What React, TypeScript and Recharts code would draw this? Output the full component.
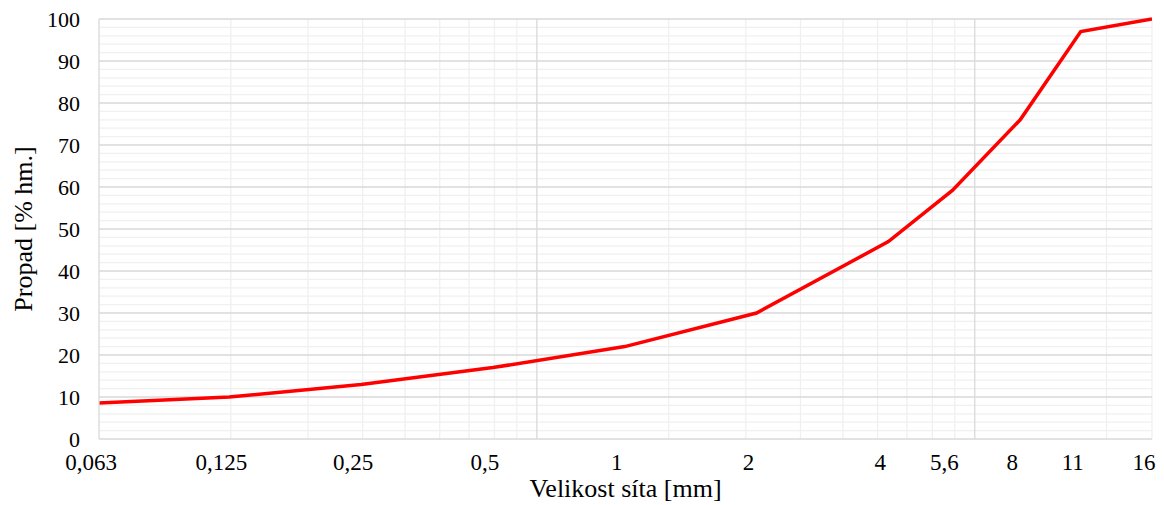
import { LineChart, Line, XAxis, YAxis, ReferenceLine } from 'recharts';

// Sieve sizes [mm] and passing [% by mass]
const SIEVES = [0.063, 0.125, 0.25, 0.5, 1, 2, 4, 5.6, 8, 11, 16];
const PASSING = [8.6, 10, 13, 17, 22, 30, 47, 59.2, 76, 97, 100];

const Y_TICKS = [0, 10, 20, 30, 40, 50, 60, 70, 80, 90, 100];
const Y_MINOR = [2, 4, 6, 8, 12, 14, 16, 18, 22, 24, 26, 28, 32, 34, 36, 38, 42, 44, 46, 48, 52, 54, 56, 58, 62, 64, 66, 68, 72, 74, 76, 78, 82, 84, 86, 88, 92, 94, 96, 98];

// log grid: decades start at 0.063 (Excel log axis base)
const DECADES = [0.063, 0.63, 6.3];
const STEPS = [2, 3, 4, 5, 6, 7, 8, 9];

const FONT = 'Liberation Serif, DejaVu Serif, serif';
const MAJOR = '#d9d9d9';
const MINOR = '#f0f0f0';

const data = SIEVES.map((s, i) => ({ size: s, passing: PASSING[i] }));

const xMinor = DECADES.flatMap(d => STEPS.map(k => +(d * k).toFixed(4))).filter(v => v < 16);
xMinor.push(16);

const XTick = ({ x, y, payload }: any) => (
  <text x={x - 8} y={y} dy="0.71em" textAnchor="middle" style={{ fontSize: 23, fontFamily: FONT }} fill="#000">
    {String(payload.value).replace('.', ',')}
  </text>
);

const YTitle = ({ viewBox }: any) => {
  const cx = 23;
  const cy = viewBox.y + viewBox.height / 2;
  return (
    <text x={cx} y={cy} transform={`rotate(-90 ${cx} ${cy})`} textAnchor="middle" dominantBaseline="central"
      style={{ fontSize: 26, fontFamily: FONT }} fill="#000">
      Propad [% hm.]
    </text>
  );
};

const XTitle = ({ viewBox }: any) => {
  const cx = viewBox.x + viewBox.width / 2;
  return (
    <text x={cx} y={497} textAnchor="middle" style={{ fontSize: 26, fontFamily: FONT }} fill="#000">
      Velikost síta [mm]
    </text>
  );
};

export default function App() {
  return (
    <div style={{ position: 'absolute', left: 0, top: 0, background: '#fff', fontFamily: FONT }}>
      <LineChart width={1164} height={505} data={data} margin={{ top: 19, right: 12, left: 0, bottom: 0 }}>
        <XAxis
          dataKey="size"
          type="number"
          scale="log"
          domain={[0.063, 16]}
          allowDataOverflow
          ticks={SIEVES}
          interval={0}
          tick={<XTick />}
          tickLine={false}
          tickMargin={9}
          axisLine={{ stroke: MAJOR, strokeWidth: 1.3 }}
          height={66}
          label={<XTitle />}
        />
        <YAxis
          type="number"
          domain={[0, 100]}
          ticks={Y_TICKS}
          interval={0}
          tickLine={false}
          tickMargin={13}
          width={99}
          tick={{ fontSize: 22, fontFamily: FONT, fill: '#000', style: { fontFamily: FONT } }}
          axisLine={{ stroke: MAJOR, strokeWidth: 1.3 }}
          label={<YTitle />}
        />
        {Y_MINOR.map(v => (
          <ReferenceLine key={'ym' + v} y={v} stroke={MINOR} strokeWidth={1.3} />
        ))}
        {xMinor.map(v => (
          <ReferenceLine key={'xm' + v} x={v} stroke={MINOR} strokeWidth={1.3} />
        ))}
        {Y_TICKS.filter(v => v > 0).map(v => (
          <ReferenceLine key={'yM' + v} y={v} stroke={MAJOR} strokeWidth={1.3} />
        ))}
        {DECADES.filter(v => v > 0.063).map(v => (
          <ReferenceLine key={'xM' + v} x={v} stroke={MAJOR} strokeWidth={1.3} />
        ))}
        <Line
          dataKey="passing"
          type="linear"
          stroke="#ff0000"
          strokeWidth={3.5}
          dot={false}
          isAnimationActive={false}
        />
      </LineChart>
    </div>
  );
}
